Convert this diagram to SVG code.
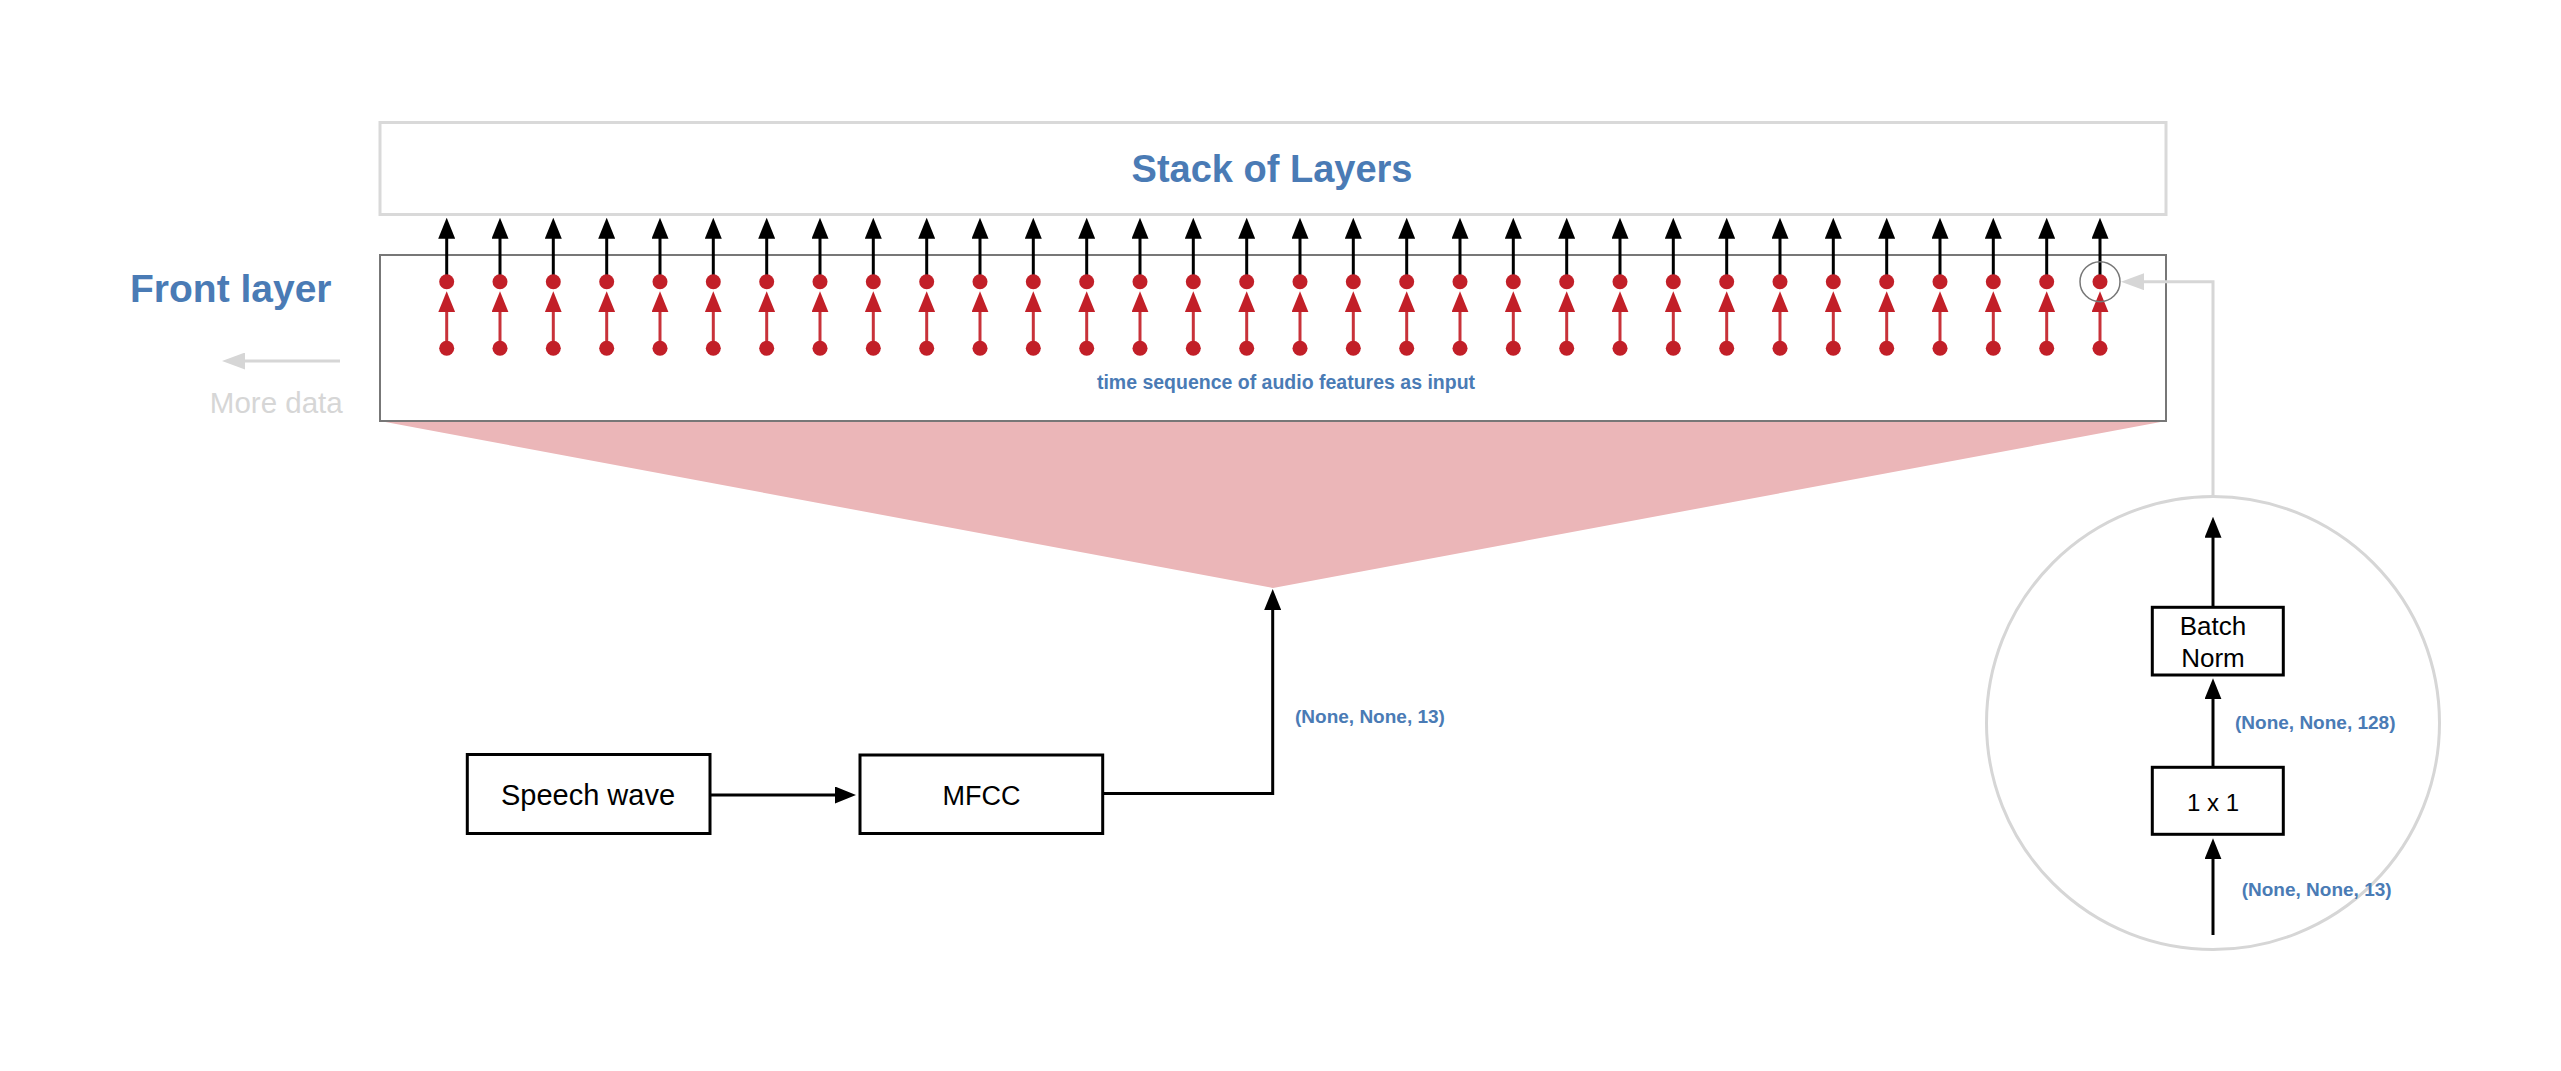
<svg xmlns="http://www.w3.org/2000/svg" xmlns:xlink="http://www.w3.org/1999/xlink" width="2561" height="1071" viewBox="0 0 2561 1071">
<style>
  text { font-family: "Liberation Sans", Arial, sans-serif; }
  .blue { fill: #4a7bb5; font-weight: bold; }
  .lbl { fill: #000; }
  .box { fill: #fff; stroke: #000; stroke-width: 3; }
  .blk { fill: none; stroke: #000; stroke-width: 3; }
  .red { fill: none; stroke: #c8323a; stroke-width: 3; }
  .gry { fill: none; stroke: #d6d6d6; stroke-width: 3; }
  .dot { fill: #c21f28; }
</style>
<defs>
  <marker id="ab" viewBox="0 0 21 17" refX="1" refY="8.5" markerWidth="21" markerHeight="17" markerUnits="userSpaceOnUse" orient="auto">
    <path d="M0,0 L21,8.5 L0,17 z" fill="#000"/>
  </marker>
  <marker id="ar" viewBox="0 0 21 17" refX="1" refY="8.5" markerWidth="21" markerHeight="17" markerUnits="userSpaceOnUse" orient="auto">
    <path d="M0,0 L21,8.5 L0,17 z" fill="#c21f28"/>
  </marker>
  <marker id="ag" viewBox="0 0 23 17" refX="1" refY="8.5" markerWidth="23" markerHeight="17" markerUnits="userSpaceOnUse" orient="auto">
    <path d="M0,0 L23,8.5 L0,17 z" fill="#d6d6d6"/>
  </marker>
  <g id="col">
    <line class="blk" x1="0" y1="281.7" x2="0" y2="237.7" marker-end="url(#ab)"/>
    <line class="red" x1="0" y1="348.3" x2="0" y2="311.3" marker-end="url(#ar)"/>
    <circle class="dot" cx="0" cy="281.7" r="7.5"/>
    <circle class="dot" cx="0" cy="348.3" r="7.5"/>
  </g>
</defs>
<rect width="2561" height="1071" fill="#fff"/>

<g id="funnel">
  <polygon points="380,421 2166,421 1273,588" fill="#ebb6b8"/>
</g>

<g id="stack-of-layers">
  <rect x="380" y="122.5" width="1786" height="92" fill="#fff" stroke="#d9d9d9" stroke-width="3"/>
  <text class="blue" x="1272" y="182.3" font-size="38" text-anchor="middle">Stack of Layers</text>
</g>

<g id="front-layer">
  <rect x="380" y="255" width="1786" height="166" fill="#fff" stroke="#777" stroke-width="2"/>
  <text class="blue" x="1286" y="389.3" font-size="19.5" text-anchor="middle">time sequence of audio features as input</text>
</g>

<g id="front-layer-title">
  <text class="blue" x="130" y="302.3" font-size="39">Front layer</text>
</g>

<g id="more-data">
  <text x="342.7" y="413.3" font-size="29.5" fill="#d6d6d6" text-anchor="end">More data</text>
</g>

<g id="columns">
  <use xlink:href="#col" x="446.7"/>
  <use xlink:href="#col" x="500"/>
  <use xlink:href="#col" x="553.3"/>
  <use xlink:href="#col" x="606.7"/>
  <use xlink:href="#col" x="660"/>
  <use xlink:href="#col" x="713.3"/>
  <use xlink:href="#col" x="766.7"/>
  <use xlink:href="#col" x="820"/>
  <use xlink:href="#col" x="873.3"/>
  <use xlink:href="#col" x="926.7"/>
  <use xlink:href="#col" x="980"/>
  <use xlink:href="#col" x="1033.3"/>
  <use xlink:href="#col" x="1086.7"/>
  <use xlink:href="#col" x="1140"/>
  <use xlink:href="#col" x="1193.3"/>
  <use xlink:href="#col" x="1246.7"/>
  <use xlink:href="#col" x="1300"/>
  <use xlink:href="#col" x="1353.3"/>
  <use xlink:href="#col" x="1406.7"/>
  <use xlink:href="#col" x="1460"/>
  <use xlink:href="#col" x="1513.3"/>
  <use xlink:href="#col" x="1566.7"/>
  <use xlink:href="#col" x="1620"/>
  <use xlink:href="#col" x="1673.3"/>
  <use xlink:href="#col" x="1726.7"/>
  <use xlink:href="#col" x="1780"/>
  <use xlink:href="#col" x="1833.3"/>
  <use xlink:href="#col" x="1886.7"/>
  <use xlink:href="#col" x="1940"/>
  <use xlink:href="#col" x="1993.3"/>
  <use xlink:href="#col" x="2046.7"/>
  <use xlink:href="#col" x="2100"/>
  <circle cx="2100" cy="281.7" r="20" fill="none" stroke="#777" stroke-width="1.5"/>
</g>

<g id="zoom-circle">
  <circle cx="2213" cy="723" r="226.5" fill="#fff" stroke="#d6d6d6" stroke-width="3"/>
</g>

<g id="speech-wave">
  <rect class="box" x="467.3" y="754.5" width="242.7" height="79"/>
  <text class="lbl" x="588" y="805" font-size="29" text-anchor="middle">Speech wave</text>
</g>

<g id="mfcc">
  <rect class="box" x="860" y="755" width="242.7" height="78.5"/>
  <text class="lbl" x="981.5" y="805" font-size="27" text-anchor="middle">MFCC</text>
</g>

<g id="batch-norm">
  <rect class="box" x="2152.3" y="607.3" width="131" height="67.7"/>
  <text class="lbl" x="2213" y="635" font-size="26" text-anchor="middle">Batch</text>
  <text class="lbl" x="2213" y="666.7" font-size="26" text-anchor="middle">Norm</text>
</g>

<g id="conv1x1">
  <rect class="box" x="2152.3" y="767.3" width="131" height="67"/>
  <text class="lbl" x="2213" y="810.7" font-size="24" text-anchor="middle">1 x 1</text>
</g>

<g id="connectors">
  <line class="gry" x1="340" y1="361" x2="244" y2="361" marker-end="url(#ag)"/>
  <polyline class="gry" points="2213,496.7 2213,281.7 2143,281.7" marker-end="url(#ag)"/>
  <line class="blk" x1="710" y1="795" x2="836" y2="795" marker-end="url(#ab)"/>
  <polyline class="blk" points="1102.7,793.5 1272.7,793.5 1272.7,609" marker-end="url(#ab)"/>
  <line class="blk" x1="2213" y1="935" x2="2213" y2="858.3" marker-end="url(#ab)"/>
  <line class="blk" x1="2213" y1="767.3" x2="2213" y2="698.3" marker-end="url(#ab)"/>
  <line class="blk" x1="2213" y1="607.3" x2="2213" y2="536.7" marker-end="url(#ab)"/>
</g>

<g id="labels">
  <text class="blue" x="1295" y="723.3" font-size="19">(None, None, 13)</text>
  <text class="blue" x="2235" y="729" font-size="19">(None, None, 128)</text>
  <text class="blue" x="2241.7" y="896" font-size="19">(None, None, 13)</text>
</g>
</svg>
